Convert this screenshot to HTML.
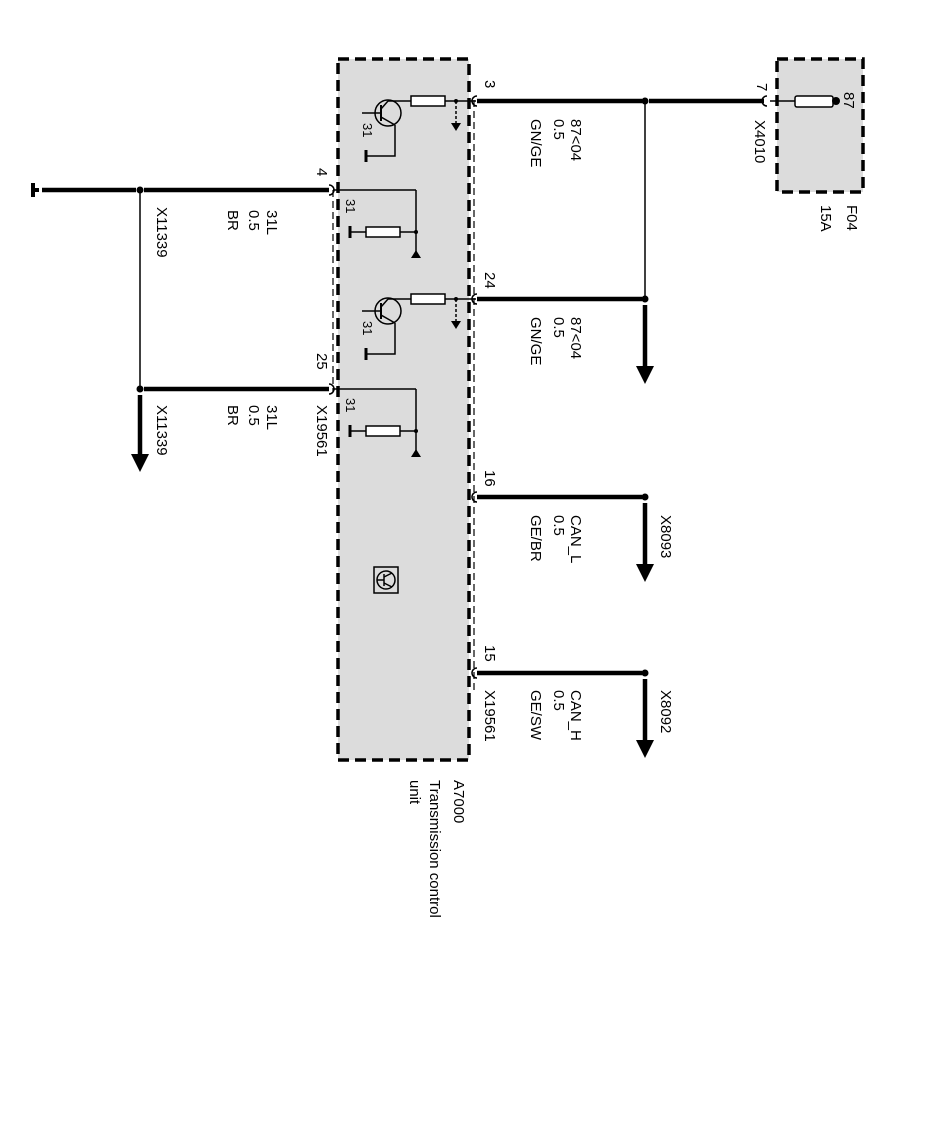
<!DOCTYPE html>
<html><head><meta charset="utf-8"><style>
html,body{margin:0;padding:0;background:#fff;}
svg{display:block;}
text{font-family:"Liberation Sans",Arial,sans-serif;font-size:15px;fill:#000;}
</style></head><body>
<svg width="944" height="1137" viewBox="0 0 944 1137" xmlns="http://www.w3.org/2000/svg">
<defs>
<g id="tr">
  <circle cx="0" cy="0" r="13" fill="none" stroke="#000" stroke-width="1.5"/>
  <line x1="-26" y1="0" x2="-7" y2="0" stroke="#000" stroke-width="1.5"/>
  <line x1="-7" y1="-8" x2="-7" y2="8" stroke="#000" stroke-width="2"/>
  <line x1="-7" y1="-4" x2="0" y2="-12" stroke="#000" stroke-width="1.5"/>
  <line x1="0" y1="-12" x2="25" y2="-12" stroke="#000" stroke-width="1.5"/>
  <line x1="-7" y1="4" x2="7" y2="12" stroke="#000" stroke-width="1.5"/>
  <polyline points="7,12 7,43 -22,43" fill="none" stroke="#000" stroke-width="1.5"/>
  <line x1="-22" y1="37" x2="-22" y2="49" stroke="#000" stroke-width="3"/>
  <rect x="23" y="-17" width="34" height="10" fill="#fff" stroke="#000" stroke-width="1.5"/>
  <line x1="57" y1="-12" x2="88" y2="-12" stroke="#000" stroke-width="1.5"/>
  <circle cx="68" cy="-12" r="2" fill="#000"/>
  <line x1="68" y1="-12" x2="68" y2="10" stroke="#000" stroke-width="1.5" stroke-dasharray="3,2"/>
  <polygon points="63,10 73,10 68,18" fill="#000"/>
</g>
<g id="gr">
  <line x1="0" y1="0" x2="83" y2="0" stroke="#000" stroke-width="1.5"/>
  <line x1="83" y1="0" x2="83" y2="62" stroke="#000" stroke-width="1.5"/>
  <circle cx="83" cy="42" r="2" fill="#000"/>
  <rect x="33" y="37" width="34" height="10" fill="#fff" stroke="#000" stroke-width="1.5"/>
  <line x1="67" y1="42" x2="83" y2="42" stroke="#000" stroke-width="1.5"/>
  <line x1="17" y1="42" x2="33" y2="42" stroke="#000" stroke-width="1.5"/>
  <line x1="17" y1="36" x2="17" y2="48" stroke="#000" stroke-width="3"/>
  <polygon points="78,68 88,68 83,60" fill="#000"/>
</g>
</defs>

<rect x="338" y="59" width="131" height="701" fill="#dcdcdc" stroke="#000" stroke-width="3.5" stroke-dasharray="11,6"/>
<line x1="474" y1="100" x2="474" y2="690" stroke="#000" stroke-width="1.2" stroke-dasharray="7,4"/>
<line x1="333" y1="190" x2="333" y2="392" stroke="#000" stroke-width="1.2" stroke-dasharray="7,4"/>

<rect x="777" y="59" width="86" height="133" fill="#dcdcdc" stroke="#000" stroke-width="3.5" stroke-dasharray="11,6"/>
<line x1="770" y1="101" x2="795" y2="101" stroke="#000" stroke-width="1.5"/>
<rect x="795" y="96" width="38" height="11" rx="2" fill="#fff" stroke="#000" stroke-width="1.5"/>
<circle cx="836" cy="101" r="4" fill="#000"/>

<use href="#tr" x="388" y="113"/>
<use href="#tr" x="388" y="311"/>
<use href="#gr" x="333" y="190"/>
<use href="#gr" x="333" y="389"/>
<g transform="translate(386,580)">
  <rect x="-12" y="-13" width="24" height="26" fill="none" stroke="#000" stroke-width="1.5"/>
  <circle cx="0" cy="0" r="9" fill="none" stroke="#000" stroke-width="1.5"/>
  <line x1="-9" y1="0" x2="-2" y2="0" stroke="#000" stroke-width="1.5"/>
  <line x1="-2" y1="-6" x2="-2" y2="6" stroke="#000" stroke-width="1.5"/>
  <line x1="-2" y1="-3" x2="6" y2="-7" stroke="#000" stroke-width="1.5"/>
  <line x1="-2" y1="3" x2="6" y2="7" stroke="#000" stroke-width="1.5"/>
</g>

<g stroke="#000" stroke-width="4.5" fill="none">
  <line x1="477" y1="101" x2="642" y2="101"/>
  <line x1="649" y1="101" x2="764" y2="101"/>
  <line x1="477" y1="299" x2="642" y2="299"/>
  <line x1="477" y1="497" x2="642" y2="497"/>
  <line x1="477" y1="673" x2="642" y2="673"/>
  <line x1="42" y1="190" x2="136" y2="190"/>
  <line x1="144" y1="190" x2="329" y2="190"/>
  <line x1="144" y1="389" x2="329" y2="389"/>
  <line x1="645" y1="305" x2="645" y2="368"/>
  <line x1="645" y1="503" x2="645" y2="566"/>
  <line x1="645" y1="679" x2="645" y2="742"/>
  <line x1="140" y1="395" x2="140" y2="456"/>
</g>
<g stroke="#000" stroke-width="1.5" fill="none">
  <line x1="645" y1="101" x2="645" y2="299"/>
  <line x1="140" y1="190" x2="140" y2="389"/>
  <path d="M477,96 a5,5 0 0 0 0,10"/>
  <path d="M477,294 a5,5 0 0 0 0,10"/>
  <path d="M477,492 a5,5 0 0 0 0,10"/>
  <path d="M477,668 a5,5 0 0 0 0,10"/>
  <path d="M329,185 a5,5 0 0 1 0,10"/>
  <path d="M329,384 a5,5 0 0 1 0,10"/>
  <path d="M767,96 a5,5 0 0 0 0,10"/>
</g>
<g fill="#000">
  <circle cx="645" cy="101" r="3.5"/><circle cx="645" cy="299" r="3.5"/>
  <circle cx="645" cy="497" r="3.5"/><circle cx="645" cy="673" r="3.5"/>
  <circle cx="140" cy="190" r="3.5"/><circle cx="140" cy="389" r="3.5"/>
  <polygon points="636,366 654,366 645,384"/>
  <polygon points="636,564 654,564 645,582"/>
  <polygon points="636,740 654,740 645,758"/>
  <polygon points="131,454 149,454 140,472"/>
  <rect x="31" y="183" width="4" height="14"/>
  <rect x="34" y="188" width="5" height="4"/>
</g>

<g>
<text transform="translate(485,80) rotate(90)">3</text>
<text transform="translate(571,119) rotate(90)">87&lt;04</text>
<text transform="translate(554,119) rotate(90)">0.5</text>
<text transform="translate(531,119) rotate(90)">GN/GE</text>
<text transform="translate(485,272) rotate(90)">24</text>
<text transform="translate(571,317) rotate(90)">87&lt;04</text>
<text transform="translate(554,317) rotate(90)">0.5</text>
<text transform="translate(531,317) rotate(90)">GN/GE</text>
<text transform="translate(485,470) rotate(90)">16</text>
<text transform="translate(571,515) rotate(90)">CAN_L</text>
<text transform="translate(554,515) rotate(90)">0.5</text>
<text transform="translate(531,515) rotate(90)">GE/BR</text>
<text transform="translate(661,515) rotate(90)">X8093</text>
<text transform="translate(485,645) rotate(90)">15</text>
<text transform="translate(485,690) rotate(90)">X19561</text>
<text transform="translate(571,690) rotate(90)">CAN_H</text>
<text transform="translate(554,690) rotate(90)">0.5</text>
<text transform="translate(531,690) rotate(90)">GE/SW</text>
<text transform="translate(661,690) rotate(90)">X8092</text>
<text transform="translate(757,83) rotate(90)">7</text>
<text transform="translate(755,120) rotate(90)">X4010</text>
<text transform="translate(844,92) rotate(90)">87</text>
<text transform="translate(847,205) rotate(90)">F04</text>
<text transform="translate(821,205) rotate(90)">15A</text>
<text transform="translate(317,168) rotate(90)">4</text>
<text transform="translate(267,210) rotate(90)">31L</text>
<text transform="translate(249,210) rotate(90)">0.5</text>
<text transform="translate(228,210) rotate(90)">BR</text>
<text transform="translate(157,207) rotate(90)">X11339</text>
<text transform="translate(317,353) rotate(90)">25</text>
<text transform="translate(317,405) rotate(90)">X19561</text>
<text transform="translate(267,405) rotate(90)">31L</text>
<text transform="translate(249,405) rotate(90)">0.5</text>
<text transform="translate(228,405) rotate(90)">BR</text>
<text transform="translate(157,405) rotate(90)">X11339</text>
<text transform="translate(363,123) rotate(90)" style="font-size:13px">31</text>
<text transform="translate(363,321) rotate(90)" style="font-size:13px">31</text>
<text transform="translate(346,199) rotate(90)" style="font-size:13px">31</text>
<text transform="translate(346,398) rotate(90)" style="font-size:13px">31</text>
<text transform="translate(454,780) rotate(90)">A7000</text>
<text transform="translate(430,780) rotate(90)">Transmission control</text>
<text transform="translate(410,780) rotate(90)">unit</text>
</g>
</svg>
</body></html>
